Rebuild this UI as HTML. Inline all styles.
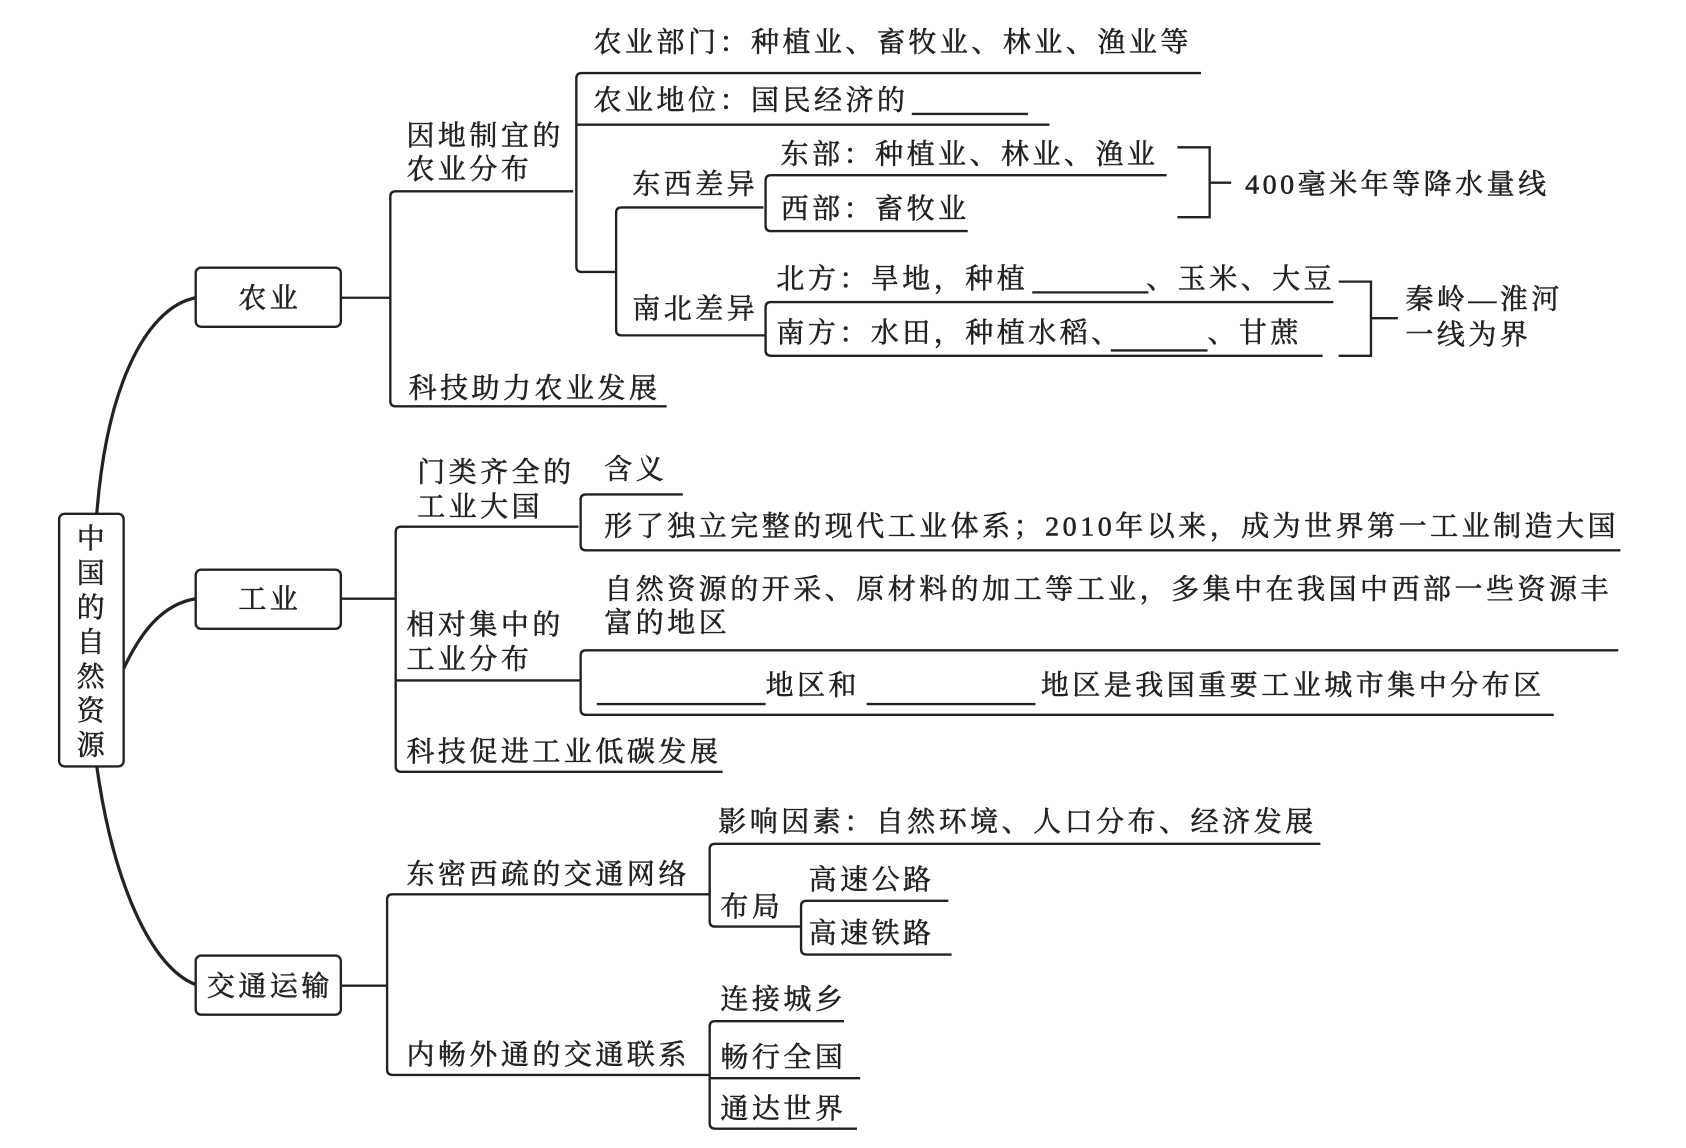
<!DOCTYPE html>
<html><head><meta charset="utf-8"><style>
html,body{margin:0;padding:0;background:#fff;}
svg{display:block;}
text{font-family:"Liberation Serif","Noto Serif CJK SC",serif;font-size:26px;letter-spacing:3.3px;fill:#222;stroke:#222;stroke-width:0.5px;}
</style></head><body>
<svg width="1686" height="1148" viewBox="0 0 1568 1068" preserveAspectRatio="none" xmlns="http://www.w3.org/2000/svg">
<g fill="none" stroke="#222" stroke-width="2.2">
<rect x="55" y="478" width="60" height="235" rx="5"/>
<path d="M90,478 C100,350 140,285 182,277" stroke-width="3"/>
<path d="M115,622 C130,590 150,562 182,557" stroke-width="3"/>
<path d="M90,713 C105,820 140,900 182,916" stroke-width="3"/>
<rect x="182" y="249" width="135" height="55" rx="5"/>
<rect x="182" y="530" width="135" height="55" rx="5"/>
<rect x="182" y="889" width="135" height="55" rx="5"/>
<path d="M317,277 H363 M533,178 H368 Q363,178 363,183 V373 Q363,378 368,378 H620"/>
<path d="M1117,68 H541 Q536,68 536,73 V248 Q536,253 541,253 H573 M536,116 H976"/>
<path d="M848,106 H956"/>
<path d="M710,193 H578 Q573,193 573,198 V307 Q573,312 578,312 H712"/>
<path d="M1085,163 H717 Q712,163 712,168 V210 Q712,215 717,215 H900"/>
<path d="M1095,137 H1125 V202 H1095 M1125,170 H1145"/>
<path d="M1240,281 H717 Q712,281 712,286 V326 Q712,331 717,331 H1230"/>
<path d="M960,272 H1068 M1033,326 H1123"/>
<path d="M1245,262 H1275 V331 H1245 M1275,296 H1300"/>
<path d="M317,557 H368 M538,490 H373 Q368,490 368,495 V713 Q368,718 373,718 H672 M368,633 H540"/>
<path d="M635,460 H545 Q540,460 540,465 V507 Q540,512 545,512 H1507"/>
<path d="M1505,605 H545 Q540,605 540,610 V660 Q540,665 545,665 H1445"/>
<path d="M555,655 H712 M806,655 H963"/>
<path d="M317,917 H360 M660,832 H365 Q360,832 360,837 V995 Q360,1000 365,1000 H660"/>
<path d="M1228,785 H665 Q660,785 660,790 V857 Q660,862 665,862 H745"/>
<path d="M882,838 H750 Q745,838 745,843 V883 Q745,888 750,888 H885"/>
<path d="M785,950 H665 Q660,950 660,955 V1045 Q660,1050 665,1050 H797 M660,1003 H800"/>
</g>
<g text-anchor="middle">
<text x="86" y="510">中</text><text x="86" y="542">国</text><text x="86" y="574">的</text><text x="86" y="606">自</text><text x="86" y="638">然</text><text x="86" y="670">资</text><text x="86" y="702">源</text>
<text x="251" y="286">农业</text>
<text x="251" y="566">工业</text>
<text x="251" y="926">交通运输</text>
</g>
<text x="552" y="48">农业部门：种植业、畜牧业、林业、渔业等</text>
<text x="552" y="102">农业地位：国民经济的</text>
<text x="378" y="135">因地制宜的</text>
<text x="378" y="166">农业分布</text>
<text x="726" y="152">东部：种植业、林业、渔业</text>
<text x="588" y="180">东西差异</text>
<text x="726" y="203">西部：畜牧业</text>
<text x="1158" y="180">400毫米年等降水量线</text>
<text x="722" y="268">北方：旱地，种植</text>
<text x="1066" y="268">、玉米、大豆</text>
<text x="588" y="296">南北差异</text>
<text x="722" y="318">南方：水田，种植水稻、</text>
<text x="1123" y="318">、甘蔗</text>
<text x="1307" y="287">秦岭—淮河</text>
<text x="1307" y="320">一线为界</text>
<text x="380" y="370">科技助力农业发展</text>
<text x="388" y="448">门类齐全的</text>
<text x="388" y="480">工业大国</text>
<text x="562" y="445">含义</text>
<text x="562" y="498">形了独立完整的现代工业体系；2010年以来，成为世界第一工业制造大国</text>
<text x="562" y="557">自然资源的开采、原材料的加工等工业，多集中在我国中西部一些资源丰</text>
<text x="562" y="588">富的地区</text>
<text x="378" y="590">相对集中的</text>
<text x="378" y="622">工业分布</text>
<text x="712" y="646">地区和</text>
<text x="968" y="646">地区是我国重要工业城市集中分布区</text>
<text x="378" y="708">科技促进工业低碳发展</text>
<text x="668" y="773">影响因素：自然环境、人口分布、经济发展</text>
<text x="378" y="822">东密西疏的交通网络</text>
<text x="752" y="827">高速公路</text>
<text x="670" y="852">布局</text>
<text x="752" y="877">高速铁路</text>
<text x="670" y="938">连接城乡</text>
<text x="378" y="990">内畅外通的交通联系</text>
<text x="670" y="992">畅行全国</text>
<text x="670" y="1040">通达世界</text>
</svg>
</body></html>
